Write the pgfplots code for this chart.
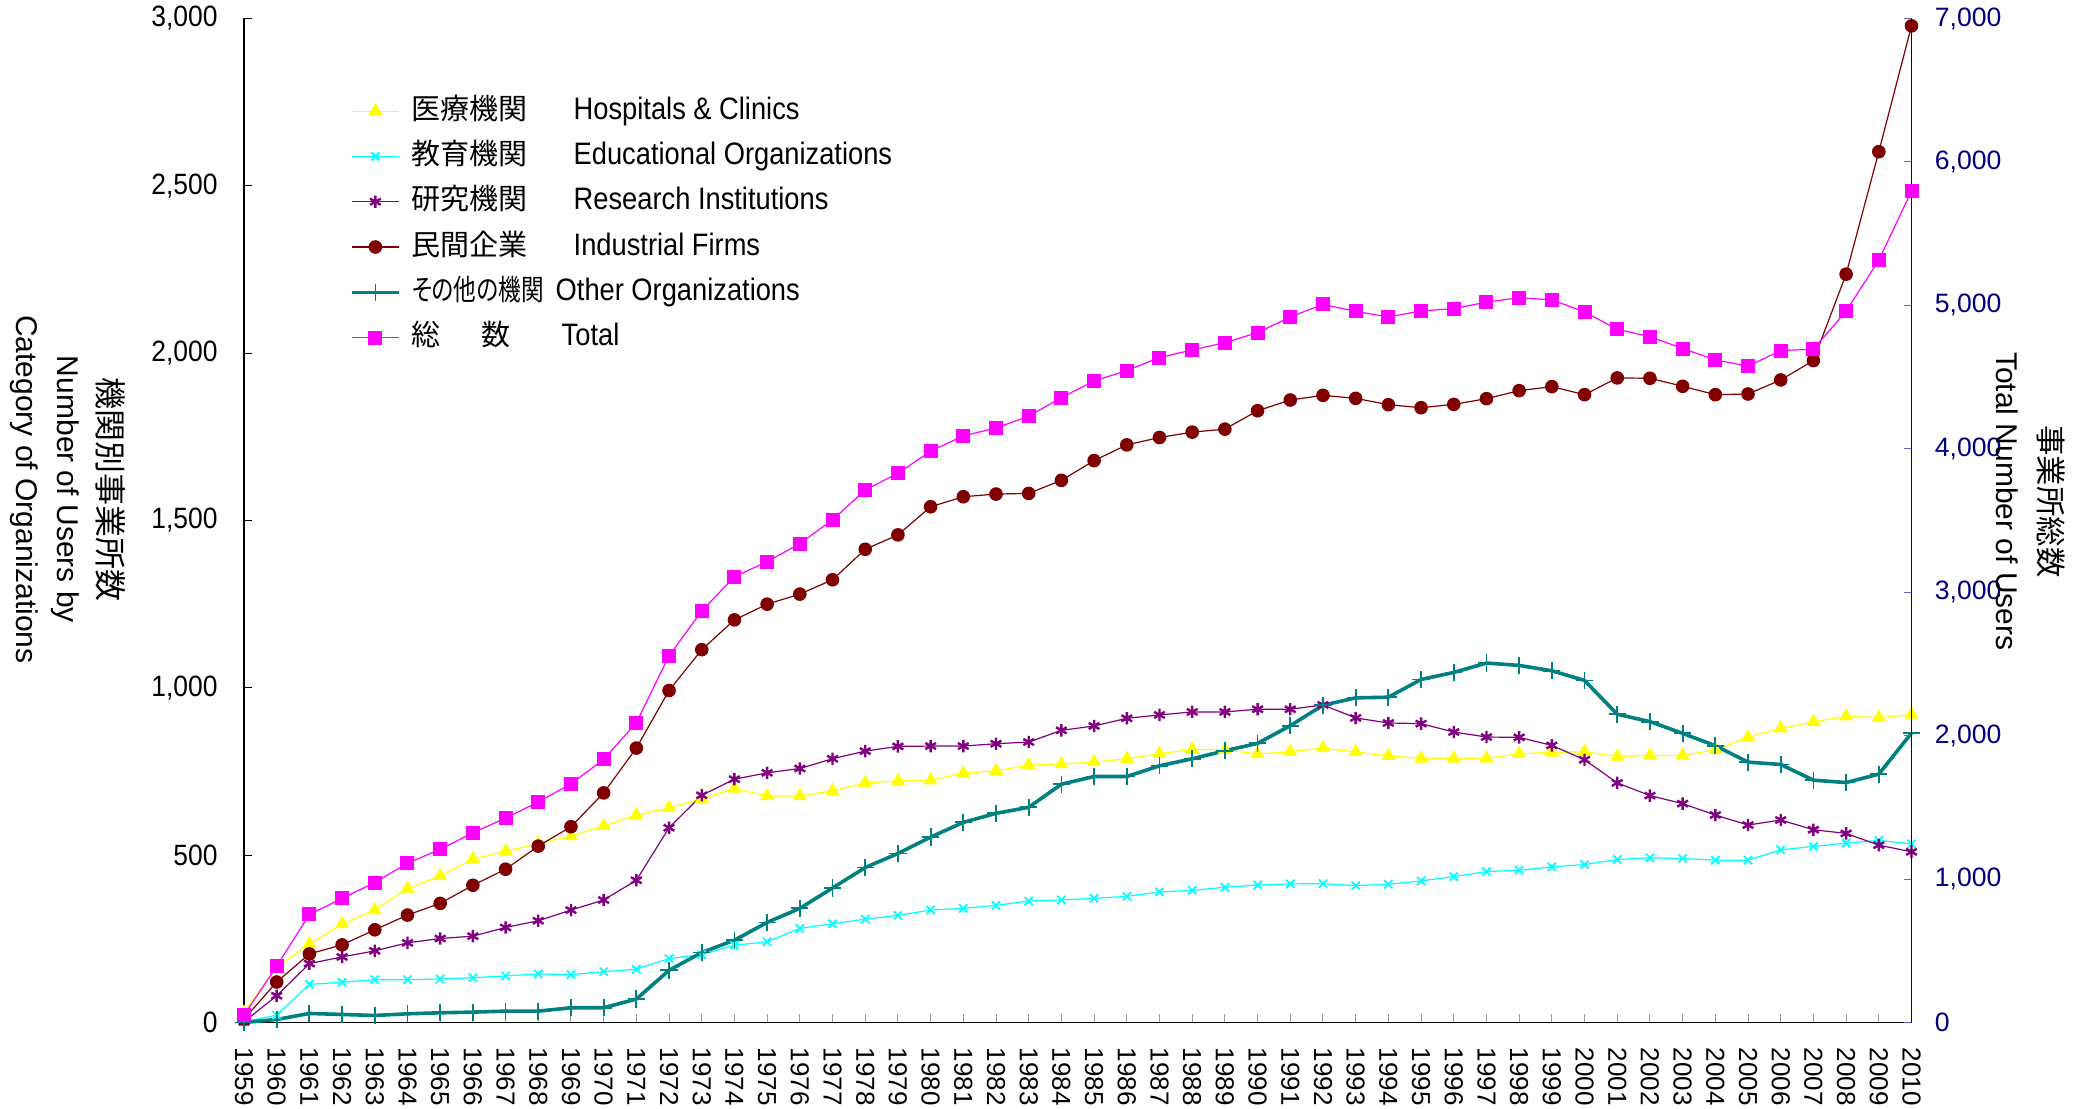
\documentclass[border=0pt]{standalone}
\usepackage{pgfplots}
\pgfplotsset{compat=1.18}
\usepackage{pgfplotstable}
\usepackage{fontspec}
\setmainfont{Liberation Sans}
\newfontfamily\jp{Noto Sans CJK JP}
\newfontfamily\jpp[RawFeature=+palt,FakeStretch=0.78]{Noto Sans CJK JP}
\newfontfamily\narrow[FakeStretch=0.88]{Liberation Sans}
\newfontfamily\narrowt[FakeStretch=0.9]{Liberation Sans}
\definecolor{cH}{HTML}{FFFF00}
\definecolor{cE}{HTML}{00FFFF}
\definecolor{cR}{HTML}{800080}
\definecolor{cI}{HTML}{800000}
\definecolor{cO}{HTML}{008080}
\definecolor{cT}{HTML}{FF00FF}
\definecolor{navy}{HTML}{000080}

\pgfplotsset{
 sH/.style={color=cH, line width=0.6pt, mark=triangle*, mark size=3.5pt, mark options={fill=cH, draw=cH}},
 sE/.style={color=cE, line width=0.6pt, mark=x, mark size=2.9pt, mark options={line width=0.9pt}},
 sR/.style={color=cR, line width=0.6pt, mark=asterisk, mark size=3.1pt, mark options={line width=1.2pt}},
 sI/.style={color=cI, line width=0.6pt, mark=*, mark size=3.1pt, mark options={fill=cI}},
 sO/.style={color=cO, line width=1.8pt, mark=+, mark size=4.3pt, mark options={line width=0.9pt}},
 sT/.style={color=cT, line width=0.6pt, mark=square*, mark size=3.2pt, mark options={fill=cT}},
}

\pgfplotstableread{
yr H E R I O T
1959 30 2 2 10 0 50
1960 165 22 80 121 9 393
1961 234 114 176 205 27 753
1962 294 120 196 232 24 865
1963 336 128 214 277 21 976
1964 400 128 238 321 26 1111
1965 438 130 251 356 29 1207
1966 488 134 258 410 31 1323
1967 512 139 284 458 34 1425
1968 534 145 304 527 34 1538
1969 557 143 336 585 44 1664
1970 587 152 366 686 44 1834
1971 620 159 425 820 70 2090
1972 641 191 582 992 156 2557
1973 668 203 679 1114 209 2869
1974 699 231 727 1203 246 3108
1975 677 241 746 1250 299 3213
1976 677 281 759 1280 341 3339
1977 692 295 788 1323 402 3504
1978 716 309 811 1414 463 3713
1979 722 320 825 1457 505 3829
1980 724 336 826 1541 554 3983
1981 745 341 826 1571 598 4090
1982 752 350 833 1579 625 4145
1983 769 363 838 1581 643 4227
1984 772 366 873 1620 712 4357
1985 778 371 886 1679 735 4473
1986 788 377 909 1726 735 4545
1987 803 390 919 1748 767 4636
1988 816 395 928 1764 788 4689
1989 815 404 928 1773 812 4740
1990 802 411 936 1828 834 4810
1991 809 414 936 1860 887 4919
1992 820 415 949 1874 948 5007
1993 808 409 910 1865 970 4958
1994 797 413 895 1846 972 4919
1995 789 423 893 1837 1025 4961
1996 789 436 868 1847 1046 4977
1997 789 451 853 1864 1074 5023
1998 803 455 852 1888 1067 5053
1999 807 465 828 1900 1051 5039
2000 809 472 785 1876 1022 4954
2001 795 487 716 1926 921 4833
2002 798 492 678 1925 899 4782
2003 798 490 654 1901 864 4699
2004 815 485 620 1876 827 4620
2005 852 485 590 1878 778 4576
2006 879 516 605 1920 771 4685
2007 898 526 576 1978 724 4694
2008 915 536 565 2236 717 4960
2009 911 544 530 2602 742 5315
2010 920 534 510 2978 865 5797
}\data

\begin{document}
\begin{tikzpicture}
\useasboundingbox (0,0) rectangle (1045pt,554.5pt);
\begin{axis}[
 at={(122pt,43.25pt)}, anchor=south west,
 scale only axis, width=833.75pt, height=502pt,
 xmin=1959, xmax=2010, ymin=0, ymax=3000,
 axis x line*=bottom, axis y line*=left,
 x axis line style={-, line width=0.9pt, black},
 y axis line style={-, line width=0.6pt, black},
 tick align=inside, major tick length=4pt,
 xtick={1959,1960,1961,1962,1963,1964,1965,1966,1967,1968,1969,1970,1971,1972,1973,1974,1975,1976,1977,1978,1979,1980,1981,1982,1983,1984,1985,1986,1987,1988,1989,1990,1991,1992,1993,1994,1995,1996,1997,1998,1999,2000,2001,2002,2003,2004,2005,2006,2007,2008,2009,2010},
 xticklabels={1959,1960,1961,1962,1963,1964,1965,1966,1967,1968,1969,1970,1971,1972,1973,1974,1975,1976,1977,1978,1979,1980,1981,1982,1983,1984,1985,1986,1987,1988,1989,1990,1991,1992,1993,1994,1995,1996,1997,1998,1999,2000,2001,2002,2003,2004,2005,2006,2007,2008,2009,2010},
 ytick={0,500,...,3000},
 x tick style={gray!80, line width=0.5pt},
 y tick style={black, line width=0.5pt},
 /pgf/number format/assume math mode=true,
 xticklabel style={rotate=-90, anchor=west, inner sep=0pt, font=\fontsize{13}{13}\selectfont},
 yticklabel style={inner sep=0pt, font=\narrowt\fontsize{14.7}{14.7}\selectfont, /pgf/number format/1000 sep={,}},
 xticklabel shift=12.5pt,
 yticklabel shift=13pt,
 clip=false,
]
\addplot[sH] table[x=yr,y=H]{\data};
\addplot[sE] table[x=yr,y=E]{\data};
\addplot[sR] table[x=yr,y=R]{\data};
\addplot[sI] table[x=yr,y=I]{\data};
\addplot[sO] table[x=yr,y=O]{\data};
\end{axis}
\begin{axis}[
 at={(122pt,43.25pt)}, anchor=south west,
 scale only axis, width=833.75pt, height=502pt,
 xmin=1959, xmax=2010, ymin=0, ymax=7000,
 hide x axis,
 axis y line*=right,
 y axis line style={-, draw=navy, line width=0.7pt},
 tick align=inside, major tick length=4pt,
 ytick={0,1000,...,7000},
 y tick style={navy!60, line width=0.5pt},
 /pgf/number format/assume math mode=true,
 yticklabel style={inner sep=0pt, text=navy, font=\fontsize{13.3}{13.3}\selectfont, /pgf/number format/1000 sep={,}},
 yticklabel shift=11.5pt,
 clip=false,
 legend style={at={(0.0598,0.9261)}, anchor=north west, draw=none, fill=none,
   font=\narrow\fontsize{15.5}{15.5}\selectfont,
   nodes={inner sep=0pt, text height=11pt, text depth=3pt},
   row sep=8.65pt,
   /tikz/every odd column/.style={column sep=5.5pt}},
 legend cell align=left,
 legend image code/.code={\draw[mark repeat=2,mark phase=2,#1] plot coordinates {(0pt,0pt) (11.75pt,0pt) (23.5pt,0pt)};},
]
\addlegendimage{sH}
\addlegendimage{sE}
\addlegendimage{sR}
\addlegendimage{sI}
\addlegendimage{sO}
\addplot[sT] table[x=yr,y=T]{\data};
\legend{
 {\makebox[81pt][l]{\fontsize{14.5}{14.5}\selectfont\jp 医療機関}Hospitals \& Clinics},
 {\makebox[81pt][l]{\fontsize{14.5}{14.5}\selectfont\jp 教育機関}Educational Organizations},
 {\makebox[81pt][l]{\fontsize{14.5}{14.5}\selectfont\jp 研究機関}Research Institutions},
 {\makebox[81pt][l]{\fontsize{14.5}{14.5}\selectfont\jp 民間企業}Industrial Firms},
 {\makebox[72pt][l]{\fontsize{14.5}{14.5}\selectfont\jpp その他の機関}Other Organizations},
 {\makebox[75pt][l]{\fontsize{14.5}{14.5}\selectfont\jp 総\hspace{20.5pt}数}Total}
}
\node[rotate=-90, align=center, font=\fontsize{15}{20.5}\selectfont] at (rel axis cs:-0.1055,0.531)
 {{\fontsize{16}{20.5}\selectfont\jp 機関別事業所数}\\Number of Users by\\Category of Organizations};
\node[rotate=-90, align=center, font=\fontsize{15}{21.5}\selectfont] at (rel axis cs:1.0717,0.519)
 {{\fontsize{15.2}{21.5}\selectfont\jp 事業所総数}\\Total Number of Users};
\end{axis}
\end{tikzpicture}
\end{document}
